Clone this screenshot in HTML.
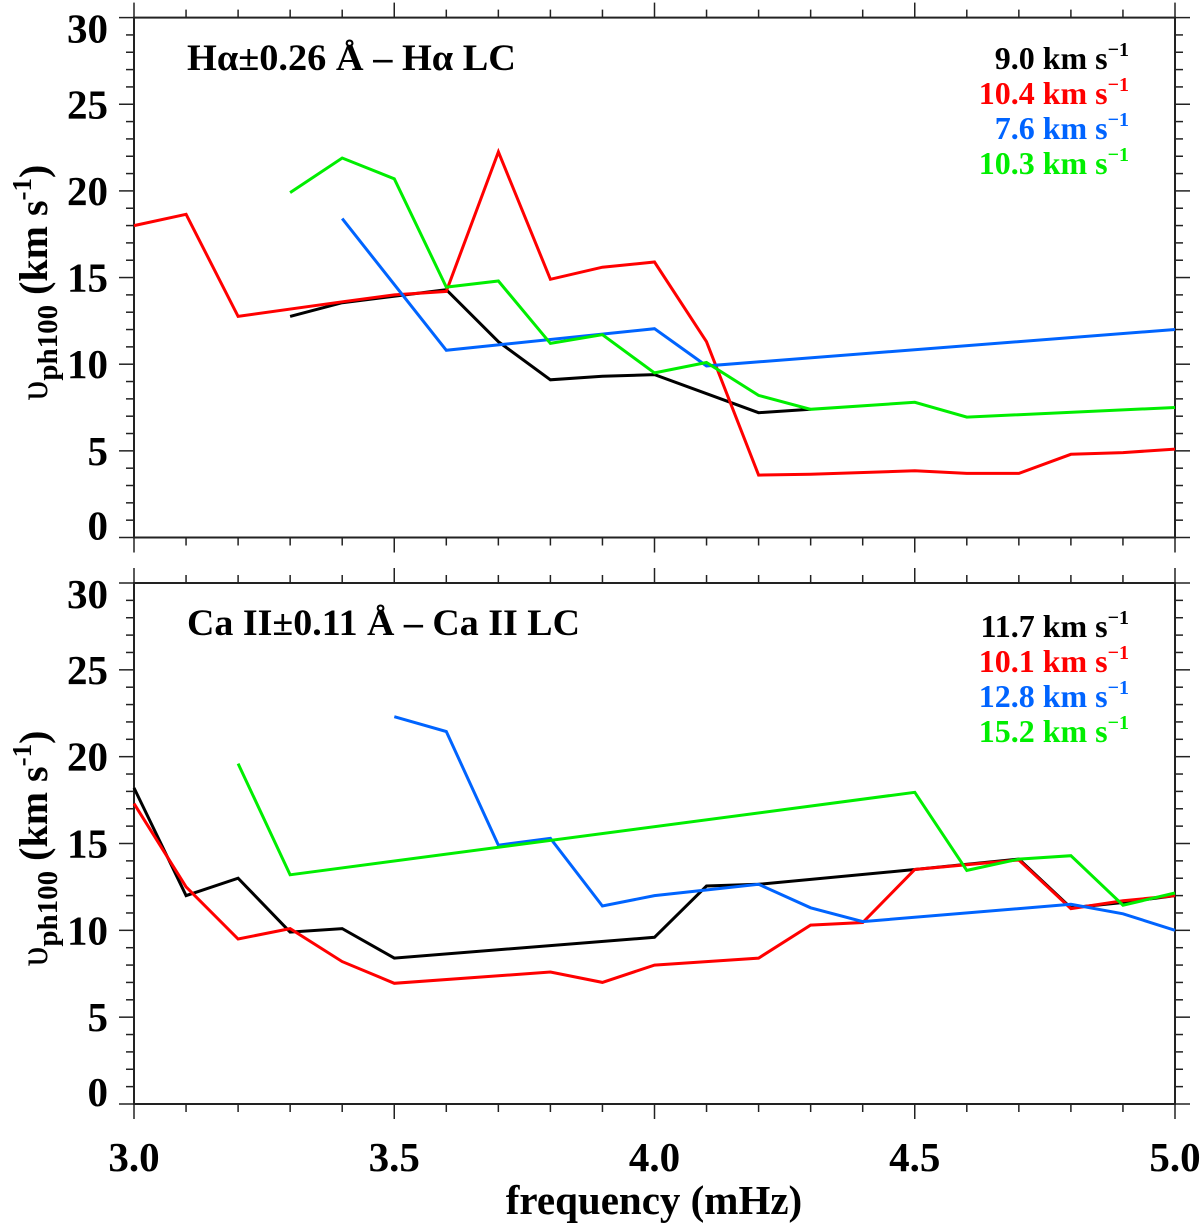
<!DOCTYPE html>
<html><head><meta charset="utf-8"><style>
html,body{margin:0;padding:0;background:#fff;}
svg{display:block;font-family:"Liberation Serif",serif;font-weight:bold;}
</style></head><body>
<svg id="chart" width="1200" height="1223" viewBox="0 0 1200 1223" xmlns="http://www.w3.org/2000/svg"></svg>
<script>
// ---- data ----
const yTicks = [0,5,10,15,20,25,30];
const xTicks = [3.0,3.5,4.0,4.5,5.0];
const xTickLabels = ["3.0","3.5","4.0","4.5","5.0"];
const seriesColors = ["#000000","#ff0000","#0064ff","#00ee00"];

// top panel (H-alpha)
const topBlackX = [3.3,3.4,3.6,3.7,3.8,3.9,4.0,4.2,4.3];
const topBlackY = [12.76,13.55,14.3,11.3,9.1,9.3,9.4,7.2,7.4];
const topRedX = [3.0,3.1,3.2,3.4,3.5,3.6,3.7,3.8,3.9,4.0,4.1,4.2,4.3,4.5,4.6,4.7,4.8,4.9,5.0];
const topRedY = [18.0,18.65,12.76,13.6,14.0,14.2,22.25,14.9,15.6,15.9,11.3,3.6,3.65,3.85,3.7,3.7,4.8,4.9,5.1];
const topBlueX = [3.4,3.6,4.0,4.1,5.0];
const topBlueY = [18.4,10.8,12.05,9.9,12.0];
const topGreenX = [3.3,3.4,3.5,3.6,3.7,3.8,3.9,4.0,4.1,4.2,4.3,4.5,4.6,5.0];
const topGreenY = [19.9,21.9,20.7,14.45,14.8,11.2,11.7,9.5,10.1,8.2,7.4,7.8,6.95,7.5];
const topLegend = ["9.0","10.4","7.6","10.3"];

// bottom panel (Ca II)
const botBlackX = [3.0,3.1,3.2,3.3,3.4,3.5,4.0,4.1,4.2,4.5,4.7,4.8,4.9,5.0];
const botBlackY = [18.2,12.0,13.0,9.9,10.1,8.4,9.6,12.55,12.65,13.5,14.1,11.3,11.6,12.0];
const botRedX = [3.0,3.1,3.2,3.3,3.4,3.5,3.8,3.9,4.0,4.1,4.2,4.3,4.4,4.5,4.7,4.8,4.9,5.0];
const botRedY = [17.3,12.5,9.5,10.1,8.2,6.95,7.6,7.0,8.0,8.2,8.4,10.3,10.45,13.5,14.05,11.25,11.7,12.0];
const botBlueX = [3.5,3.6,3.7,3.8,3.9,4.0,4.2,4.3,4.4,4.8,4.9,5.0];
const botBlueY = [22.3,21.45,14.9,15.3,11.4,12.0,12.65,11.3,10.5,11.5,10.95,10.0];
const botGreenX = [3.2,3.3,4.5,4.6,4.7,4.8,4.9,5.0];
const botGreenY = [19.6,13.2,17.95,13.45,14.1,14.3,11.45,12.15];
const botLegend = ["11.7","10.1","12.8","15.2"];

const NS = "http://www.w3.org/2000/svg";
const svg = document.getElementById("chart");
const X0 = 134, X1 = 1175;
const xs = f => X0 + (f - 3.0) / 2.0 * (X1 - X0);

function el(tag, attrs, parent){
  const e = document.createElementNS(NS, tag);
  for (const k in attrs) e.setAttribute(k, attrs[k]);
  (parent||svg).appendChild(e);
  return e;
}

function panel(top, bottom, pname, title, titleLen, titleBase, legendVals, legendBase, series){
  const ys = v => bottom - v / 30 * (bottom - top);
  const g = el("g", {});
  
  
  const fr = el("rect", {x:X0, y:top, width:X1-X0, height:bottom-top, fill:"none", stroke:"#222", "stroke-width":2}, g);
  
  
  for (let i = 0; i <= 20; i++){
    const f = 3.0 + i * 0.1;
    const x = xs(f);
    const len = (i % 5 === 0) ? 15 : 8;
    const t1 = el("line", {x1:x, x2:x, y1:top, y2:top-len, stroke:"#222", "stroke-width":1.5}, g);
    
    
    const t2 = el("line", {x1:x, x2:x, y1:bottom, y2:bottom+len, stroke:"#222", "stroke-width":1.5}, g);
    
    
  }
  for (let v = 0; v <= 30; v++){
    const y = ys(v);
    const len = (v % 5 === 0) ? 15 : 8;
    const t1 = el("line", {x1:X0, x2:X0-len, y1:y, y2:y, stroke:"#222", "stroke-width":1.5}, g);
    
    
    const t2 = el("line", {x1:X1, x2:X1+len, y1:y, y2:y, stroke:"#222", "stroke-width":1.5}, g);
    
    
  }
  yTicks.forEach(v => {
    let cy = ys(v);
    if (v === 30) cy += 11; else if (v === 0) cy -= 12;
    const t = el("text", {x:108, y:cy+14, "text-anchor":"end", "font-size":41}, g);
    
    
    t.textContent = String(v);
  });
  const cy = (top + bottom) / 2 + 5;
  const yt = el("text", {x:0, y:0, "text-anchor":"middle", "font-size":40, transform:`translate(47,${cy}) rotate(-90)`}, g);
  
  
  yt.innerHTML = '<tspan font-weight="normal">υ</tspan><tspan font-size="29" dy="10">ph100</tspan><tspan dy="-10"> (km s</tspan><tspan font-size="27" dy="-16">-1</tspan><tspan dy="16">)</tspan>';
  const names = ["black","red","blue","green"];
  series.forEach((s, i) => {
    const pts = s[0].map((f, j) => xs(f).toFixed(1) + "," + ys(s[1][j]).toFixed(1)).join(" ");
    const pl = el("polyline", {points:pts, fill:"none", stroke:seriesColors[i], "stroke-width":3, "stroke-linejoin":"miter"}, g);
    
    
  });
  const tt = el("text", {x:187, y:titleBase, "font-size":37, textLength:titleLen, lengthAdjust:"spacingAndGlyphs"}, g);
  
  
  tt.textContent = title;
  legendVals.forEach((v, i) => {
    const t = el("text", {x:1129, y:legendBase + i*35, "text-anchor":"end", "font-size":32, fill:seriesColors[i]}, g);
    
    
    t.innerHTML = v + ' km s<tspan font-size="20" dy="-13">−1</tspan>';
  });
}

panel(17.6, 537.5, "top-panel-halpha", "Hα±0.26 Å – Hα LC", 329, 70, topLegend, 69,
  [[topBlackX,topBlackY],[topRedX,topRedY],[topBlueX,topBlueY],[topGreenX,topGreenY]]);
panel(583, 1104, "bottom-panel-caii", "Ca II±0.11 Å – Ca II LC", 393, 635, botLegend, 637,
  [[botBlackX,botBlackY],[botRedX,botRedY],[botBlueX,botBlueY],[botGreenX,botGreenY]]);

xTicks.forEach((f, i) => {
  const t = el("text", {x:xs(f), y:1171, "text-anchor":"middle", "font-size":41});
  
  
  t.textContent = xTickLabels[i];
});
const xt = el("text", {x:654, y:1214, "text-anchor":"middle", "font-size":41});


xt.textContent = "frequency (mHz)";
</script>
</body></html>
